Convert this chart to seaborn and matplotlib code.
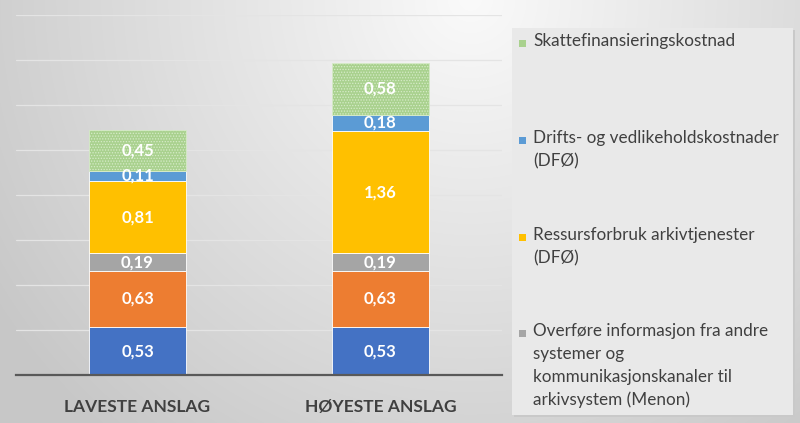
import numpy as np
import matplotlib
matplotlib.use("Agg")
import matplotlib.pyplot as plt
import seaborn as sns
from matplotlib.patches import Rectangle

# data
categories = ["LAVESTE ANSLAG", "HØYESTE ANSLAG"]
series_names = ["Serie 1",
                "Serie 2",
                "Overføre informasjon fra andre\nsystemer og\nkommunikasjonskanaler til\narkivsystem (Menon)",
                "Ressursforbruk arkivtjenester\n(DFØ)",
                "Drifts- og vedlikeholdskostnader\n(DFØ)",
                "Skattefinansieringskostnad"]
s1 = [0.53, 0.53]
s2 = [0.63, 0.63]
s3 = [0.19, 0.19]
s4 = [0.81, 1.36]
s5 = [0.11, 0.18]
s6 = [0.45, 0.58]
series_values = [s1, s2, s3, s4, s5, s6]
colors = ["#4472c4", "#ed7d31", "#a5a5a5", "#ffc000", "#5b9bd5", "#a9d18e"]
legend_shown = [5, 4, 3, 2]  # top-down order in the legend

sns.set_style("white")
plt.rcParams["font.family"] = ["Lato", "DejaVu Sans"]
plt.rcParams["hatch.linewidth"] = 0.6

fig = plt.figure(figsize=(8, 4.23), dpi=100)

# gradient background
bg = fig.add_axes([0, 0, 1, 1], zorder=-10)
yy, xx = np.mgrid[0:423, 0:800]
d = np.sqrt((xx - 470) ** 2 + (yy - 0) ** 2)
v = 250 - 42 * np.clip(d / 470, 0, 1.2)
v = v / 255.0
bg.imshow(np.dstack([v, v, v]), aspect="auto", extent=[0, 1, 0, 1], origin="upper")
bg.axis("off")

ax = fig.add_axes([0.02, 1 - 375 / 423, 0.6075, 360 / 423])
ax.patch.set_alpha(0)

bottom = np.zeros(len(categories))
for i, vals in enumerate(series_values):
    hatch = "......" if i == 5 else None
    ec = "#d6ebc8" if i == 5 else "white"
    sns.barplot(x=categories, y=vals, bottom=bottom, color=colors[i], width=0.4,
                saturation=1, ax=ax, hatch=hatch, edgecolor=ec, linewidth=0.6,
                zorder=3)
    for j, val in enumerate(vals):
        ax.text(j, bottom[j] + val / 2, f"{val:.2f}".replace(".", ","),
                ha="center", va="center", color="white", fontsize=12,
                fontweight="bold", zorder=5)
    bottom = bottom + np.array(vals)

ax.set_ylim(0, 4)
ax.set_xlim(-0.5, 1.5)
ax.set_yticks(np.arange(0, 4.01, 0.5))
ax.set_yticklabels([])
ax.tick_params(left=False, bottom=False)
ax.yaxis.grid(True, color="#e4e4e4", linewidth=0.9, zorder=0)
ax.set_axisbelow(True)
for s in ["top", "right", "left"]:
    ax.spines[s].set_visible(False)
ax.spines["bottom"].set_color("#595959")
ax.spines["bottom"].set_linewidth(1.6)
ax.spines["bottom"].set_zorder(6)
ax.set_xticks([0, 1])
ax.set_xticklabels(categories, fontsize=12.5, fontweight="bold", color="#404040")
ax.tick_params(axis="x", pad=14)
ax.set_xlabel("")
ax.set_ylabel("")

# legend box drawn by hand
W, H = 800.0, 423.0
fig.patches.append(Rectangle((514 / W, 1 - 417 / H), 281 / W, 387 / H,
                             transform=fig.transFigure, facecolor="#c9c9c9",
                             edgecolor="none", zorder=1))
fig.patches.append(Rectangle((512 / W, 1 - 415 / H), 281 / W, 387 / H,
                             transform=fig.transFigure, facecolor="#e9e9e9",
                             edgecolor="none", zorder=2))
first_line_y = [43, 140, 237, 333]
for k, idx in enumerate(legend_shown):
    y = first_line_y[k]
    fig.patches.append(Rectangle((519 / W, 1 - (y + 4) / H), 7 / W, 7 / H,
                                 transform=fig.transFigure,
                                 facecolor=colors[idx], edgecolor="none",
                                 zorder=3))
    fig.text(533 / W, 1 - (y - 10) / H, series_names[idx], fontsize=12.3,
             color="#404040", va="top", ha="left", linespacing=1.52, zorder=4)

fig.savefig("out.png", dpi=100)
